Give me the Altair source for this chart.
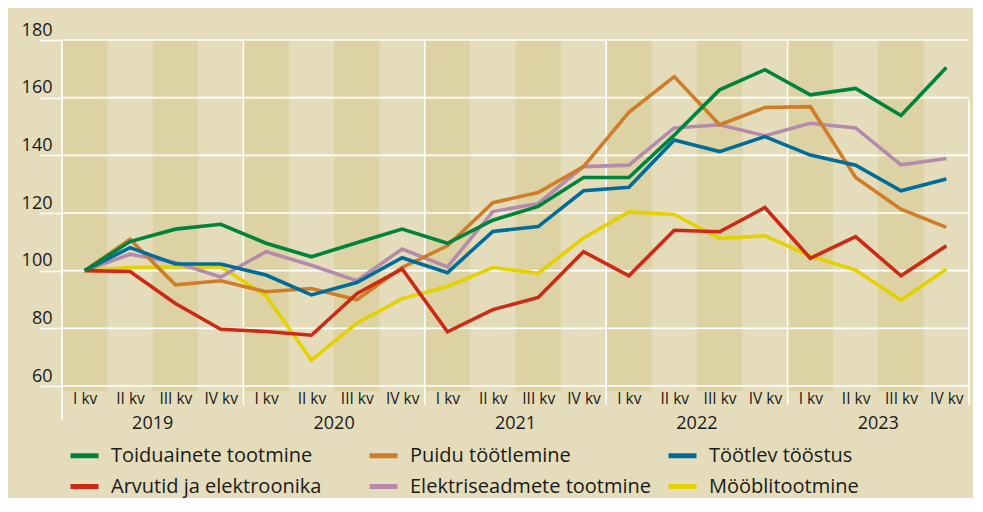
import altair as alt
import pandas as pd

quarters = ["I kv", "II kv", "III kv", "IV kv"]
years = ["2019", "2020", "2021", "2022", "2023"]

series_names = [
    "Toiduainete tootmine",
    "Puidu töötlemine",
    "Töötlev tööstus",
    "Arvutid ja elektroonika",
    "Elektriseadmete tootmine",
    "Mööblitootmine",
]
series_colors = ["#00843d", "#d07d2a", "#006c9a", "#cc2a14", "#b48bab", "#e3d100"]

toiduainete = [100, 110.1, 114.4, 116.1, 109.5, 104.8, 109.7, 114.4, 109.5, 117.5,
               122.3, 132.3, 132.3, 147.0, 162.7, 169.7, 161.0, 163.2, 153.8, 170.5]
puidu = [100, 110.9, 95.1, 96.5, 92.7, 93.8, 89.9, 101.1, 108.6, 123.6,
         127.1, 136.1, 154.9, 167.3, 150.6, 156.6, 156.9, 132.3, 121.3, 115.0]
tootlev = [100, 108.0, 102.3, 102.3, 98.5, 91.6, 95.9, 104.5, 99.3, 113.6,
           115.3, 127.7, 128.9, 145.3, 141.3, 146.5, 140.1, 136.6, 127.7, 131.8]
arvutid = [100, 99.7, 88.6, 79.7, 78.9, 77.6, 92.0, 100.6, 78.8, 86.5,
           90.7, 106.6, 98.2, 114.0, 113.5, 121.9, 104.3, 111.8, 98.2, 108.6]
elektri = [100, 105.7, 102.8, 97.8, 106.6, 101.9, 96.5, 107.5, 101.3, 120.5,
           123.3, 136.1, 136.6, 149.5, 150.6, 146.8, 151.1, 149.5, 136.7, 138.9]
mooebel = [100, 101.1, 101.3, 101.4, 91.3, 69.0, 81.8, 90.3, 94.5, 101.1,
           99.1, 111.3, 120.4, 119.5, 111.2, 112.1, 105.1, 100.2, 89.8, 100.5]

y_ticks = [60, 80, 100, 120, 140, 160, 180]

all_series = [toiduainete, puidu, tootlev, arvutid, elektri, mooebel]
draw_order = [5, 4, 1, 2, 3, 0]

rows = []
for k in draw_order:
    for i, v in enumerate(all_series[k]):
        rows.append({"idx": i, "value": v, "series": series_names[k], "ord": draw_order.index(k)})
df = pd.DataFrame(rows)

n = len(years) * len(quarters)
bands = pd.DataFrame({"idx": list(range(n))})
bands["x0"] = bands["idx"] - 0.5
bands["x1"] = bands["idx"] + 0.5
bands = bands[bands["idx"] % 2 == 0]

year_df = pd.DataFrame({"year": years, "pos": [4 * k + 1.5 for k in range(len(years))]})
year_lines = pd.DataFrame({"pos": [4 * k - 0.5 for k in range(1, len(years))]})
first_line = pd.DataFrame({"pos": [-0.5]})
last_line = pd.DataFrame({"pos": [n - 0.5]})
grid_df = pd.DataFrame({"v": y_ticks})

W, H = 907, 346
FONT = "Open Sans"
xscale = alt.Scale(domain=[-0.5, n - 0.5], nice=False, zero=False)
yscale = alt.Scale(domain=[60, 180], nice=False, zero=False)

q_expr = "['I kv','II kv','III kv','IV kv'][datum.value % 4]"

band_layer = alt.Chart(bands).mark_rect(color="#dcd2a3").encode(
    x=alt.X("x0:Q", scale=xscale, axis=alt.Axis(
        values=list(range(n)), labelExpr=q_expr, title=None, domain=False, ticks=False,
        grid=False, labelFont=FONT, labelFontSize=15.5, labelColor="#1a1a1a",
        labelPadding=5, labelFlush=False)),
    x2="x1:Q",
    y=alt.value(0),
    y2=alt.value(H + 5),
)

grid_layer = alt.Chart(grid_df).mark_rule(color="white", strokeWidth=1.6).encode(
    y=alt.Y("v:Q", scale=yscale, axis=alt.Axis(
        values=y_ticks, title=None, domain=False, grid=False, ticks=True,
        tickColor="white", tickSize=23, tickWidth=1.6, labelPadding=-13,
        labelOffset=-5, labelBaseline="alphabetic", labelFont=FONT,
        labelFontSize=18, labelColor="#1a1a1a")),
    x=alt.value(0),
    x2=alt.value(W),
)

vline_layer = alt.Chart(year_lines).mark_rule(color="white", strokeWidth=1.6).encode(
    x=alt.X("pos:Q", scale=xscale),
    y=alt.value(0),
    y2=alt.value(H + 19),
)
first_layer = alt.Chart(first_line).mark_rule(color="white", strokeWidth=1.6).encode(
    x=alt.X("pos:Q", scale=xscale),
    y=alt.value(0),
    y2=alt.value(H + 34),
)
last_layer = alt.Chart(last_line).mark_rule(color="white", strokeWidth=1.6).encode(
    x=alt.X("pos:Q", scale=xscale),
    y=alt.value(60),
    y2=alt.value(H + 19),
)

year_layer = alt.Chart(year_df).mark_text(
    font=FONT, fontSize=18, color="#1a1a1a", baseline="middle", align="center"
).encode(
    x=alt.X("pos:Q", scale=xscale),
    y=alt.value(H + 38),
    text="year:N",
)

line_layer = alt.Chart(df).mark_line(strokeWidth=3.6).encode(
    x=alt.X("idx:Q", scale=xscale),
    y=alt.Y("value:Q", scale=yscale),
    order="idx:Q",
    color=alt.Color("series:N", scale=alt.Scale(domain=series_names, range=series_colors),
                    legend=alt.Legend(
                        title=None, orient="none", legendX=6, legendY=399, direction="horizontal",
                        columns=3, gridAlign="all", columnPadding=6, rowPadding=4,
                        symbolType="stroke", symbolStrokeWidth=5, symbolSize=784,
                        labelFont=FONT, labelFontSize=20, labelColor="#1a1a1a",
                        labelOffset=10, labelLimit=400)),
)

chart = alt.layer(
    band_layer, grid_layer, vline_layer, first_layer, last_layer, year_layer, line_layer
).properties(
    width=W, height=H,
    background="#e4dcba",
    padding={"left": 54, "top": 32, "right": 4, "bottom": 112},
    autosize=alt.AutoSizeParams(type="none"),
).configure_view(stroke=None)

chart.save("out.html", embed_options={"renderer": "svg", "actions": False})
